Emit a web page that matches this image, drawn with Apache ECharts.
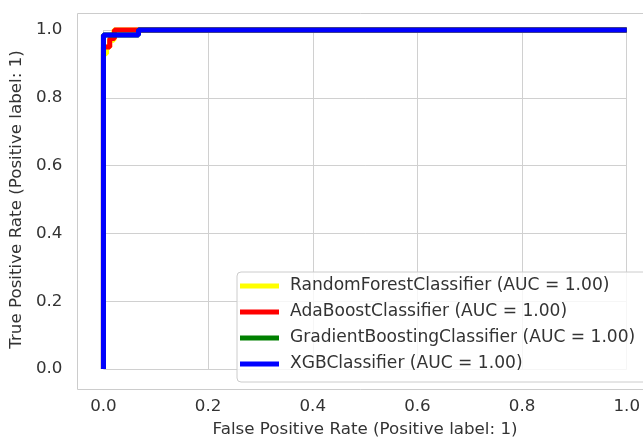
<!DOCTYPE html>
<html>
<head>
<meta charset="utf-8">
<script src="https://cdn.jsdelivr.net/npm/echarts@6/dist/echarts.min.js"></script>
<style>html,body{margin:0;padding:0;background:#fff;}#c{width:643px;height:443px;}</style>
</head>
<body>
<div id="c"></div>
<script>
const seriesNames = ['RandomForestClassifier (AUC = 1.00)', 'AdaBoostClassifier (AUC = 1.00)', 'GradientBoostingClassifier (AUC = 1.00)', 'XGBClassifier (AUC = 1.00)'];
const seriesColors = ['#ffff00', '#ff0000', '#008000', '#0000ff'];
const rfFpr = [0, 0, 0.006, 0.006, 0.012, 0.012, 0.02, 0.02, 1];
const rfTpr = [0, 0.93, 0.93, 0.95, 0.95, 0.97, 0.97, 1, 1];
const adaFpr = [0, 0, 0.012, 0.012, 0.021, 0.021, 1];
const adaTpr = [0, 0.95, 0.95, 0.975, 0.975, 1, 1];
const gbFpr = [0, 0, 0.067, 0.067, 1];
const gbTpr = [0, 0.985, 0.985, 1, 1];
const xgbFpr = [0, 0, 0.067, 0.067, 1];
const xgbTpr = [0, 0.985, 0.985, 1, 1];
const xTicks = [0, 0.2, 0.4, 0.6, 0.8, 1.0];
const yTicks = [0, 0.2, 0.4, 0.6, 0.8, 1.0];

const curves = [[rfFpr, rfTpr], [adaFpr, adaTpr], [gbFpr, gbTpr], [xgbFpr, xgbTpr]];
const font = 'DejaVu Sans';
const txt = '#333333';

const chart = echarts.init(document.getElementById('c'), null, {renderer: 'canvas'});
chart.setOption({
  animation: false,
  backgroundColor: '#ffffff',
  grid: {left: 103, right: 15, top: 30, bottom: 72, show: false},
  graphic: [{
    type: 'rect', z: -1, silent: true,
    shape: {x: 77.5, y: 13.5, width: 577, height: 376},
    style: {fill: 'none', stroke: '#cccccc', lineWidth: 1}
  }],
  xAxis: {
    type: 'value', min: 0, max: 1, interval: 0.2,
    name: 'False Positive Rate (Positive label: 1)',
    nameLocation: 'middle', nameGap: 52,
    nameTextStyle: {fontFamily: font, fontSize: 16.7, color: txt},
    axisLine: {show: false}, axisTick: {show: false},
    axisLabel: {fontFamily: font, fontSize: 16.7, color: txt, margin: 29,
      formatter: v => xTicks.includes(+v.toFixed(2)) ? v.toFixed(1) : ''},
    splitLine: {show: true, lineStyle: {color: '#d0d0d0', width: 1}}
  },
  yAxis: {
    type: 'value', min: 0, max: 1, interval: 0.2,
    name: 'True Positive Rate (Positive label: 1)',
    nameLocation: 'middle', nameGap: 70,
    nameTextStyle: {fontFamily: font, fontSize: 16.7, color: txt},
    axisLine: {show: false}, axisTick: {show: false},
    axisLabel: {fontFamily: font, fontSize: 16.7, color: txt, margin: 41,
      formatter: v => yTicks.includes(+v.toFixed(2)) ? v.toFixed(1) : ''},
    splitLine: {show: true, lineStyle: {color: '#d0d0d0', width: 1}}
  },
  legend: {
    orient: 'vertical', left: 237, top: 272,
    data: seriesNames.map((n, i) => ({name: n, icon: 'rect'})),
    itemWidth: 39, itemHeight: 5, itemGap: 6,
    padding: [4, 12, 8, 3],
    backgroundColor: 'rgba(255,255,255,0.8)',
    borderColor: '#cccccc', borderWidth: 1, borderRadius: 4,
    textStyle: {fontFamily: font, fontSize: 17.1, color: txt, lineHeight: 20, padding: [0, 0, 0, 6]}
  },
  series: curves.map((c, i) => ({
    name: seriesNames[i],
    type: 'line',
    data: c[0].map((x, k) => [x, c[1][k]]),
    showSymbol: false, symbol: 'none',
    clip: false,
    color: seriesColors[i],
    lineStyle: {color: seriesColors[i], width: 5},
    itemStyle: {color: seriesColors[i]},
    z: 2 + i
  }))
});
</script>
</body>
</html>
